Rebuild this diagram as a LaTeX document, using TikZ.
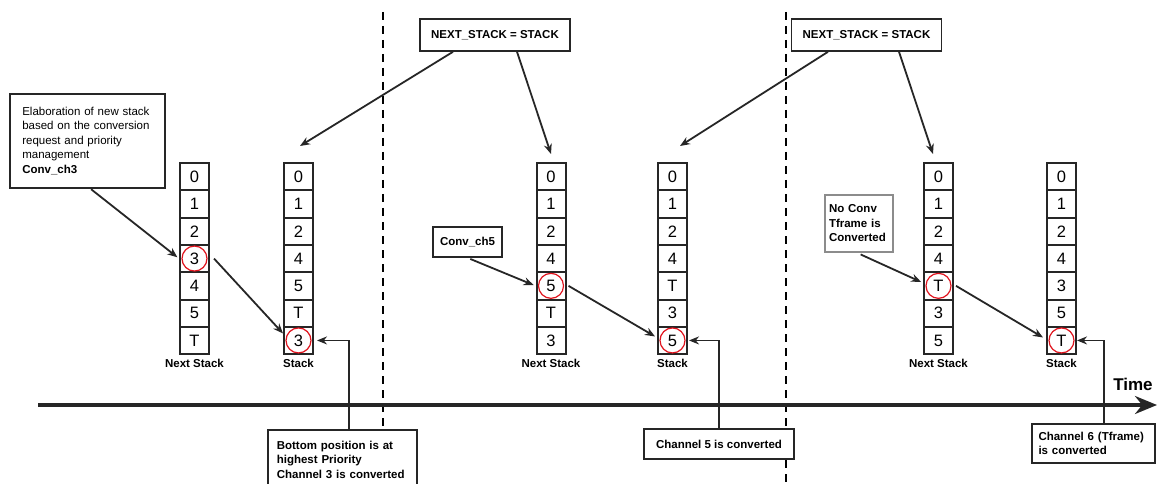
\documentclass[tikz,border=0pt]{standalone}
\usepackage{fontspec}
\setmainfont{Liberation Sans}
\usepackage{tikz}
\usetikzlibrary{calc,positioning,arrows.meta}
\definecolor{ink}{HTML}{262626}
\definecolor{boxgray}{HTML}{8C8C8C}
\definecolor{hitred}{HTML}{E0141E}
\newcommand{\cellfont}{\fontsize{16.5}{18}\selectfont}
\newcommand{\notefont}{\fontsize{11.5}{14.5}\selectfont}
\pgfkeys{
  /stackcol/.cd,
  name/.initial=stk,
  position/.initial={0,0},
  values/.initial={},
  hit/.initial=1,
  caption/.initial={}
}
\newcommand{\stackcol}[1][]{
    {
        \pgfkeys{/stackcol/.cd,#1}
        \pgfkeys{/stackcol/name/.get=\stkname}
        \pgfkeys{/stackcol/position/.get=\stkposition}
        \pgfkeys{/stackcol/values/.get=\stkvalues}
        \pgfkeys{/stackcol/hit/.get=\stkhit}
        \pgfkeys{/stackcol/caption/.get=\stkcaption}
        \foreach[count=\i] \val in \stkvalues {
            \node[cell] (\stkname-\i) at ($ (\stkposition) + (0,{(\i-1)*27.3}) $) {\val};
        }
        \node[hitmark] at (\stkname-\stkhit) {};
        \node[stackname,below=3pt of \stkname-7] {\stkcaption};
    }
}

\begin{document}
\begin{tikzpicture}[x=1pt,y=-1pt,
    cell/.style={draw=ink,line width=2pt,minimum width=29pt,minimum height=27.3pt,inner sep=0pt,font=\cellfont},
    hitmark/.style={circle,draw=hitred,line width=1.2pt,minimum size=25pt,inner sep=0pt},
    stackname/.style={font=\notefont\bfseries,inner sep=1pt},
    notebox/.style={draw=ink,line width=1.6pt,fill=white,font=\notefont,align=left},
    link/.style={draw=ink,line width=1.8pt,-{Stealth[length=10pt,width=8pt]}},
    divider/.style={draw=black,line width=2.2pt,dash pattern=on 8pt off 6pt}]
            \useasboundingbox (0,0) rectangle (1160,484);

            \draw[divider] (383,12) -- (383,484);
            \draw[divider] (786,12) -- (786,484);

            \coordinate (t0) at (38,405);
            \coordinate (t1) at (1157,405);
            \draw[draw=ink,line width=3.2pt,-{Stealth[length=22pt,width=18pt]}] (t0) -- (t1);
            \node[font=\fontsize{17}{20}\selectfont\bfseries] (time) at (1133,384) {Time};

            \stackcol[name=ns1,position={194.5,176.65},values={0,1,2,3,4,5,T},hit=4,caption=Next Stack]
            \stackcol[name=st1,position={298.5,176.65},values={0,1,2,4,5,T,3},hit=7,caption=Stack]
            \stackcol[name=ns2,position={551,176.65},values={0,1,2,4,5,T,3},hit=5,caption=Next Stack]
            \stackcol[name=st2,position={672.5,176.65},values={0,1,2,4,T,3,5},hit=7,caption=Stack]
            \stackcol[name=ns3,position={938.5,176.65},values={0,1,2,4,T,3,5},hit=5,caption=Next Stack]
            \stackcol[name=st3,position={1061.5,176.65},values={0,1,2,4,3,5,T},hit=7,caption=Stack]

            \node[notebox,text width=130pt,inner xsep=12.5pt,minimum height=94pt,anchor=north west] (elab) at (9,93)
                {Elaboration of new stack\\based on the conversion\\request and priority\\management\\\textbf{Conv\_ch3}};
            \node[notebox,font=\notefont\bfseries,minimum width=150pt,minimum height=32pt,align=center] (nxt1) at (495,35) {NEXT\_STACK = STACK};
            \node[notebox,font=\notefont\bfseries,minimum width=150pt,minimum height=32pt,align=center] (nxt2) at (866.5,35) {NEXT\_STACK = STACK};
            \node[notebox,font=\notefont\bfseries,minimum width=69pt,minimum height=30pt,align=center] (conv5) at (467.5,242) {Conv\_ch5};
            \node[notebox,draw=boxgray,font=\notefont\bfseries,text width=60pt,inner xsep=4pt,minimum height=57pt] (noconv) at (859,223.5)
                {No Conv\\Tframe is\\Converted};
            \node[notebox,font=\notefont\bfseries,text width=131pt,inner xsep=9pt,minimum height=60pt,anchor=north west] (prio) at (267,429)
                {Bottom position is at\\highest Priority\\Channel 3 is converted};
            \node[notebox,font=\notefont\bfseries,minimum width=150pt,minimum height=30pt,align=center] (conv5done) at (719,444) {Channel 5 is converted};
            \node[notebox,font=\notefont\bfseries,text width=110pt,inner xsep=6.5pt,minimum height=39pt] (tframedone) at (1093.5,443.5)
                {Channel 6 (Tframe)\\is converted};

            \draw[link] ([xshift=-42pt]nxt1.south) -- ([xshift=1.5pt,yshift=16pt]st1-1.north);
            \draw[link] ([xshift=22pt]nxt1.south) -- ([yshift=8pt]ns2-1.north);
            \draw[link] ([xshift=-38.5pt]nxt2.south) -- ([xshift=7.5pt,yshift=16pt]st2-1.north);
            \draw[link] ([xshift=32.5pt]nxt2.south) -- ([xshift=-5.5pt,yshift=8pt]ns3-1.north);

            \draw[link,shorten <=1pt,shorten >=2pt] ([xshift=3pt]elab.south) -- (ns1-4.west);
            \draw[link] ([xshift=4pt]ns1-4.east) -- ([yshift=7pt]st1-7.west);
            \draw[link,shorten <=3pt,shorten >=2pt] (conv5.south) -- (ns2-5.west);
            \draw[link] ([xshift=2pt]ns2-5.east) -- ([xshift=-2pt,yshift=4pt]st2-7.west);
            \draw[link,shorten <=4pt,shorten >=2pt] ([xshift=-2pt]noconv.south) -- ([yshift=3pt]ns3-5.west);
            \draw[link] ([xshift=2pt]ns3-5.east) -- ([xshift=-3pt,yshift=3pt]st3-7.west);

            \draw[link] ([xshift=6.5pt]prio.north) |- ([xshift=3pt]st1-7.east);
            \draw[link] (conv5done.north) |- ([xshift=1pt]st2-7.east);
            \draw[link] ([xshift=10.5pt]tframedone.north) |- (st3-7.east);
        \end{tikzpicture}
\end{document}
